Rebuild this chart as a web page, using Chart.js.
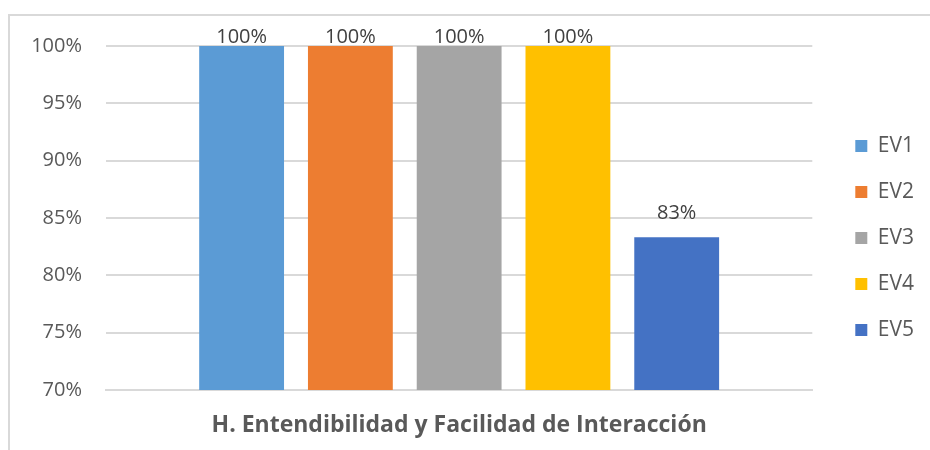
<!DOCTYPE html>
<html>
<head>
<meta charset="utf-8">
<script src="https://cdn.jsdelivr.net/npm/chart.js@4"></script>
<style>
  html, body { margin: 0; padding: 0; background: #fff; }
  #frame { position: absolute; left: 8px; top: 14px; width: 920px; height: 434px;
           border-left: 2px solid #d9d9d9; border-top: 2px solid #d9d9d9; }
  #frame canvas { display: block; }
</style>
</head>
<body>
<div id="frame"><canvas id="c"></canvas></div>
<script>
const categories = ['H. Entendibilidad y Facilidad de Interacción'];
const seriesNames = ['EV1', 'EV2', 'EV3', 'EV4', 'EV5'];
const seriesValues = [[1.0], [1.0], [1.0], [1.0], [0.8333]];
const seriesColors = ['#5B9BD5', '#ED7D31', '#A5A5A5', '#FFC000', '#4472C4'];
const yTicks = [0.70, 0.75, 0.80, 0.85, 0.90, 0.95, 1.00];

const FONT = '"Open Sans", "Liberation Sans", sans-serif';
const TEXT = '#595959';

const valueLabels = {
  id: 'valueLabels',
  afterDatasetsDraw(chart) {
    const ctx = chart.ctx;
    ctx.save();
    ctx.font = '20px ' + FONT;
    ctx.fillStyle = '#404040';
    ctx.textAlign = 'center';
    ctx.textBaseline = 'bottom';
    chart.data.datasets.forEach((ds, i) => {
      const meta = chart.getDatasetMeta(i);
      meta.data.forEach((el, j) => {
        const v = ds.data[j];
        const txt = Math.round(v * 100) + '%';
        let y = el.y - 14;
        if (y < chart.chartArea.top) y = chart.chartArea.top + 1;
        ctx.fillText(txt, el.x, y);
      });
    });
    ctx.restore();
  }
};

const legendShift = {
  id: 'legendShift',
  afterLayout(chart) {
    const lg = chart.legend;
    if (!lg) return;
    lg.left += 18; lg.right += 18;
    lg.top -= 10; lg.bottom -= 10;
  }
};

new Chart(document.getElementById('c'), {
  type: 'bar',
  data: {
    labels: categories,
    datasets: seriesNames.map((n, i) => ({
      label: n,
      data: seriesValues[i],
      backgroundColor: seriesColors[i],
      borderWidth: 0,
      categoryPercentage: 0.77,
      barPercentage: 0.78
    }))
  },
  options: {
    responsive: true,
    maintainAspectRatio: false,
    animation: false,
    layout: { padding: { top: 30, right: 24, bottom: 0, left: 0 } },
    plugins: {
      tooltip: { enabled: false },
      legend: {
        position: 'right',
        labels: {
          boxWidth: 12, boxHeight: 12, padding: 25,
          color: TEXT, font: { family: FONT, size: 21 }
        }
      }
    },
    scales: {
      x: {
        grid: { display: false, drawTicks: false },
        border: { display: true, color: '#d9d9d9', width: 2 },
        ticks: { color: TEXT, padding: 22, font: { family: FONT, size: 23, weight: 'bold' } },
        afterFit(s) { s.height = 60; }
      },
      y: {
        min: 0.7, max: 1.0,
        afterBuildTicks(s) { s.ticks = yTicks.map(v => ({ value: v })); },
        grid: { color: '#d9d9d9', lineWidth: 2, drawTicks: false },
        border: { display: false },
        ticks: { color: TEXT, padding: 24, font: { family: FONT, size: 20 },
                 callback: v => Math.round(v * 100) + '%' },
        afterFit(s) { s.width = 96; s.paddingTop = 0; s.paddingBottom = 0; }
      }
    }
  },
  plugins: [valueLabels, legendShift]
});
</script>
</body>
</html>
